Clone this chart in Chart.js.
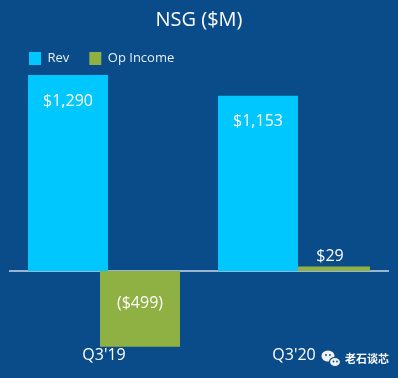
<!DOCTYPE html>
<html>
<head>
<meta charset="utf-8">
<script src="https://cdn.jsdelivr.net/npm/chart.js@4/dist/chart.umd.min.js"></script>
<style>
  html, body { margin: 0; padding: 0; background: #0a4b8a; }
  canvas { display: block; }
</style>
</head>
<body>
<canvas id="nsg" width="398" height="378"></canvas>
<script>
const quarters = ["Q3'19", "Q3'20"];
const revenue = [1290, 1153];
const opIncome = [-499, 29];

const BG = '#0a4b8a';
const CYAN = '#00c7fd';
const MOSS = '#8fb143';
const FONT = "'Open Sans', sans-serif";

const money = v => v < 0
  ? '($' + Math.abs(v).toLocaleString('en-US') + ')'
  : '$' + v.toLocaleString('en-US');

// background, zero line, value labels, watermark
const decor = {
  id: 'decor',
  beforeDraw(chart) {
    const c = chart.ctx;
    c.save();
    c.fillStyle = BG;
    c.fillRect(0, 0, chart.width, chart.height);
    c.restore();
  },
  beforeDatasetsDraw(chart) {
    const c = chart.ctx;
    const area = chart.chartArea;
    const y0 = chart.scales.y.getPixelForValue(0);
    c.save();
    c.strokeStyle = '#c9d8e8';
    c.lineWidth = 1.5;
    c.beginPath();
    c.moveTo(area.left, y0);
    c.lineTo(area.right, y0);
    c.stroke();
    c.restore();
  },
  afterDatasetsDraw(chart) {
    const c = chart.ctx;
    c.save();
    c.fillStyle = '#ffffff';
    c.font = '16px ' + FONT;
    c.textAlign = 'center';
    c.textBaseline = 'middle';
    chart.data.datasets.forEach((ds, i) => {
      chart.getDatasetMeta(i).data.forEach((bar, j) => {
        const v = ds.data[j];
        let y;
        if (v < 0) y = bar.base + 32;
        else if (bar.base - bar.y < 40) y = bar.y - 10;
        else y = bar.y + 26;
        c.fillText(money(v), bar.x, y);
      });
    });
    c.restore();
  },
  afterDraw(chart) {
    const c = chart.ctx;
    c.save();
    // little wechat mark
    c.fillStyle = '#f2f2f2';
    c.beginPath(); c.ellipse(328, 356, 6.5, 5.5, 0, 0, Math.PI * 2); c.fill();
    c.strokeStyle = BG; c.lineWidth = 1.2;
    c.beginPath(); c.ellipse(335, 362, 5.5, 4.5, 0, 0, Math.PI * 2); c.fill(); c.stroke();
    c.fillStyle = BG;
    [[326, 355], [330, 355], [333.5, 361.5], [337, 361.5]].forEach(p => {
      c.beginPath(); c.arc(p[0], p[1], 0.9, 0, Math.PI * 2); c.fill();
    });
    c.fillStyle = '#ffffff';
    c.font = "bold 11px 'Noto Sans CJK SC', sans-serif";
    c.textBaseline = 'middle';
    c.fillText('老石谈芯', 345, 359);
    c.restore();
  }
};

new Chart(document.getElementById('nsg'), {
  type: 'bar',
  data: {
    labels: quarters,
    datasets: [
      { label: 'Rev', data: revenue, backgroundColor: CYAN },
      { label: 'Op Income', data: opIncome, backgroundColor: MOSS }
    ]
  },
  options: {
    responsive: false,
    animation: false,
    categoryPercentage: 0.758,
    barPercentage: 1.111,
    layout: { padding: { left: 9, right: 9, top: 0, bottom: 15 } },
    plugins: {
      title: {
        display: true,
        text: 'NSG ($M)',
        color: '#ffffff',
        font: { family: FONT, size: 20, weight: 'normal' },
        padding: { top: 8, bottom: 0 }
      },
      legend: {
        position: 'top',
        align: 'start',
        labels: {
          color: '#e8eef5',
          font: { family: FONT, size: 13 },
          boxWidth: 12,
          boxHeight: 13,
          padding: 20
        }
      },
      tooltip: { enabled: false }
    },
    scales: {
      x: {
        grid: { display: false, drawTicks: false },
        border: { display: false },
        ticks: {
          color: '#ffffff',
          padding: 0,
          font: { family: FONT, size: 16, lineHeight: 1 }
        }
      },
      y: {
        display: false,
        min: -500,
        max: 1290
      }
    }
  },
  plugins: [decor]
});
</script>
</body>
</html>
